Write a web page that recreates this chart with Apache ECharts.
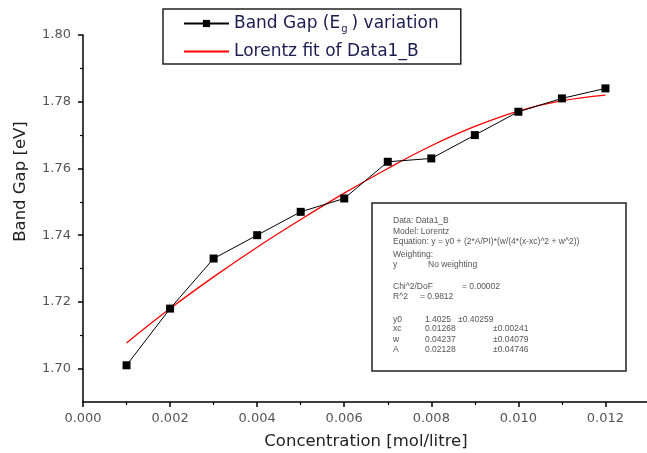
<!DOCTYPE html>
<html>
<head>
<meta charset="utf-8">
<script src="https://cdn.jsdelivr.net/npm/echarts@6/dist/echarts.min.js"></script>
<style>html,body{margin:0;padding:0;background:#fff;}#c{width:647px;height:453px;}</style>
</head>
<body>
<div id="c"></div>
<script>
// ---- data ----
var concentration = [0.001, 0.002, 0.003, 0.004, 0.005, 0.006, 0.007, 0.008, 0.009, 0.010, 0.011, 0.012];
var bandGap = [1.701, 1.718, 1.733, 1.740, 1.747, 1.751, 1.762, 1.763, 1.770, 1.777, 1.781, 1.784];
var lorentzFit = [1.7077, 1.7180, 1.7275, 1.7364, 1.7447, 1.7526, 1.7600, 1.7668, 1.7726, 1.7772, 1.7803, 1.7820];
var xMajorTicks = [0.000, 0.002, 0.004, 0.006, 0.008, 0.010, 0.012];
var xMinorTicks = [0.001, 0.003, 0.005, 0.007, 0.009, 0.011];
var yMajorTicks = [1.70, 1.72, 1.74, 1.76, 1.78, 1.80];
var yMinorTicks = [1.71, 1.73, 1.75, 1.77, 1.79];
var seriesNames = ['Band Gap (Eg) variation', 'Lorentz fit of Data1_B'];
var infoLines = ['Data: Data1_B', 'Model: Lorentz', 'Equation: y = y0 + (2*A/PI)*(w/(4*(x-xc)^2 + w^2))', 'Weighting:'];
var weightingRow = ['y', 'No weighting'];
var statRows = [['Chi^2/DoF', '= 0.00002'], ['R^2', '= 0.9812']];
var paramRows = [['y0', '1.4025', '\u00b10.40259'], ['xc', '0.01268', '\u00b10.00241'], ['w', '0.04237', '\u00b10.04079'], ['A', '0.02128', '\u00b10.04746']];

function pairs(xs, ys) { return xs.map(function (x, i) { return [x, ys[i]]; }); }

var FONT = 'DejaVu Sans';
var chart = echarts.init(document.getElementById('c'), null, { renderer: 'canvas' });

// info box graphics
var g = [];
g.push({ type: 'rect', shape: { x: 372, y: 203, width: 254, height: 168 }, style: { fill: '#fff', stroke: '#222', lineWidth: 1.5 }, z: 100 });
function txt(s, x, y) {
  g.push({ type: 'text', x: x, y: y, style: { text: s, fontSize: 8.5, fontFamily: 'Liberation Sans', fill: '#555', verticalAlign: 'middle', align: 'left' }, z: 101 });
}
var infoY = [221, 232, 242, 255];
infoLines.forEach(function (s, i) { txt(s, 393, infoY[i]); });
txt(weightingRow[0], 393, 265); txt(weightingRow[1], 428, 265);
txt(statRows[0][0], 393, 287); txt(statRows[0][1], 462, 287);
txt(statRows[1][0], 393, 297); txt(statRows[1][1], 420, 297);
var pY = [320, 329, 340, 350];
paramRows.forEach(function (r, i) {
  txt(r[0], 393, pY[i]);
  txt(r[1], 425, pY[i]);
  txt(r[2], i === 0 ? 458 : 493, pY[i]);
});

var option = {
  backgroundColor: '#fff',
  animation: false,
  grid: { left: 83, top: 35, width: 566, height: 367, containLabel: false, outerBoundsMode: 'none' },
  legend: {
    left: 163, top: 9, orient: 'vertical',
    borderColor: '#222', borderWidth: 1.5, borderRadius: 0,
    padding: [4, 22, 2, 20],
    itemWidth: 45, itemHeight: 9, itemGap: 7,
    data: [{ name: seriesNames[0] }, { name: seriesNames[1], itemStyle: { opacity: 0 } }],
    textStyle: {
      fontFamily: FONT, fontSize: 17, color: '#1c1c52', lineHeight: 21,
      rich: { sub: { fontFamily: FONT, fontSize: 10, color: '#1c1c52', verticalAlign: 'bottom', lineHeight: 2, padding: [0, 4, 0, 1] } }
    },
    formatter: function (name) {
      if (name === seriesNames[0]) return 'Band Gap (E{sub|g}) variation';
      return name;
    }
  },
  xAxis: [{
    type: 'value', min: 0, max: 0.013, position: 'bottom',
    axisLine: { show: true, onZero: false, lineStyle: { color: '#000', width: 1.5 } },
    axisTick: { show: true, length: 5, lineStyle: { color: '#000', width: 1.5 }, customValues: xMajorTicks },
    axisLabel: { customValues: xMajorTicks, formatter: function (v) { return v.toFixed(3); }, color: '#555', fontSize: 13, fontFamily: FONT, margin: 10 },
    splitLine: { show: false },
    name: 'Concentration [mol/litre]', nameLocation: 'middle', nameGap: 31,
    nameTextStyle: { fontFamily: FONT, fontSize: 16.5, color: '#222' }
  }, {
    type: 'value', min: 0, max: 0.013, position: 'bottom',
    axisLine: { show: false },
    axisTick: { show: true, length: 3, lineStyle: { color: '#000', width: 1.2 }, customValues: xMinorTicks },
    axisLabel: { show: false },
    splitLine: { show: false }
  }],
  yAxis: [{
    type: 'value', min: 1.69, max: 1.80, position: 'left',
    axisLine: { show: true, onZero: false, lineStyle: { color: '#000', width: 1.5 } },
    axisTick: { show: true, length: 5, lineStyle: { color: '#000', width: 1.5 }, customValues: yMajorTicks },
    axisLabel: { customValues: yMajorTicks, formatter: function (v) { return v.toFixed(2); }, color: '#555', fontSize: 13, fontFamily: FONT, margin: 12 },
    splitLine: { show: false },
    name: 'Band Gap [eV]', nameLocation: 'middle', nameGap: 54,
    nameTextStyle: { fontFamily: FONT, fontSize: 16.5, color: '#222', padding: [0, 0, 0, 74] }
  }, {
    type: 'value', min: 1.69, max: 1.80, position: 'left',
    axisLine: { show: false },
    axisTick: { show: true, length: 3, lineStyle: { color: '#000', width: 1.2 }, customValues: yMinorTicks },
    axisLabel: { show: false },
    splitLine: { show: false }
  }],
  series: [{
    name: seriesNames[1], type: 'line', xAxisIndex: 0, yAxisIndex: 0,
    data: pairs(concentration, lorentzFit), smooth: 0.4, showSymbol: false, symbol: 'none',
    lineStyle: { color: '#ff0000', width: 1.3 }, itemStyle: { color: '#ff0000' }, z: 2
  }, {
    name: seriesNames[0], type: 'line', xAxisIndex: 0, yAxisIndex: 0,
    data: pairs(concentration, bandGap), symbol: 'rect', symbolSize: 8,
    lineStyle: { color: '#000', width: 1 }, itemStyle: { color: '#000' }, z: 3
  }],
  graphic: g
};
chart.setOption(option);
</script>
</body>
</html>
